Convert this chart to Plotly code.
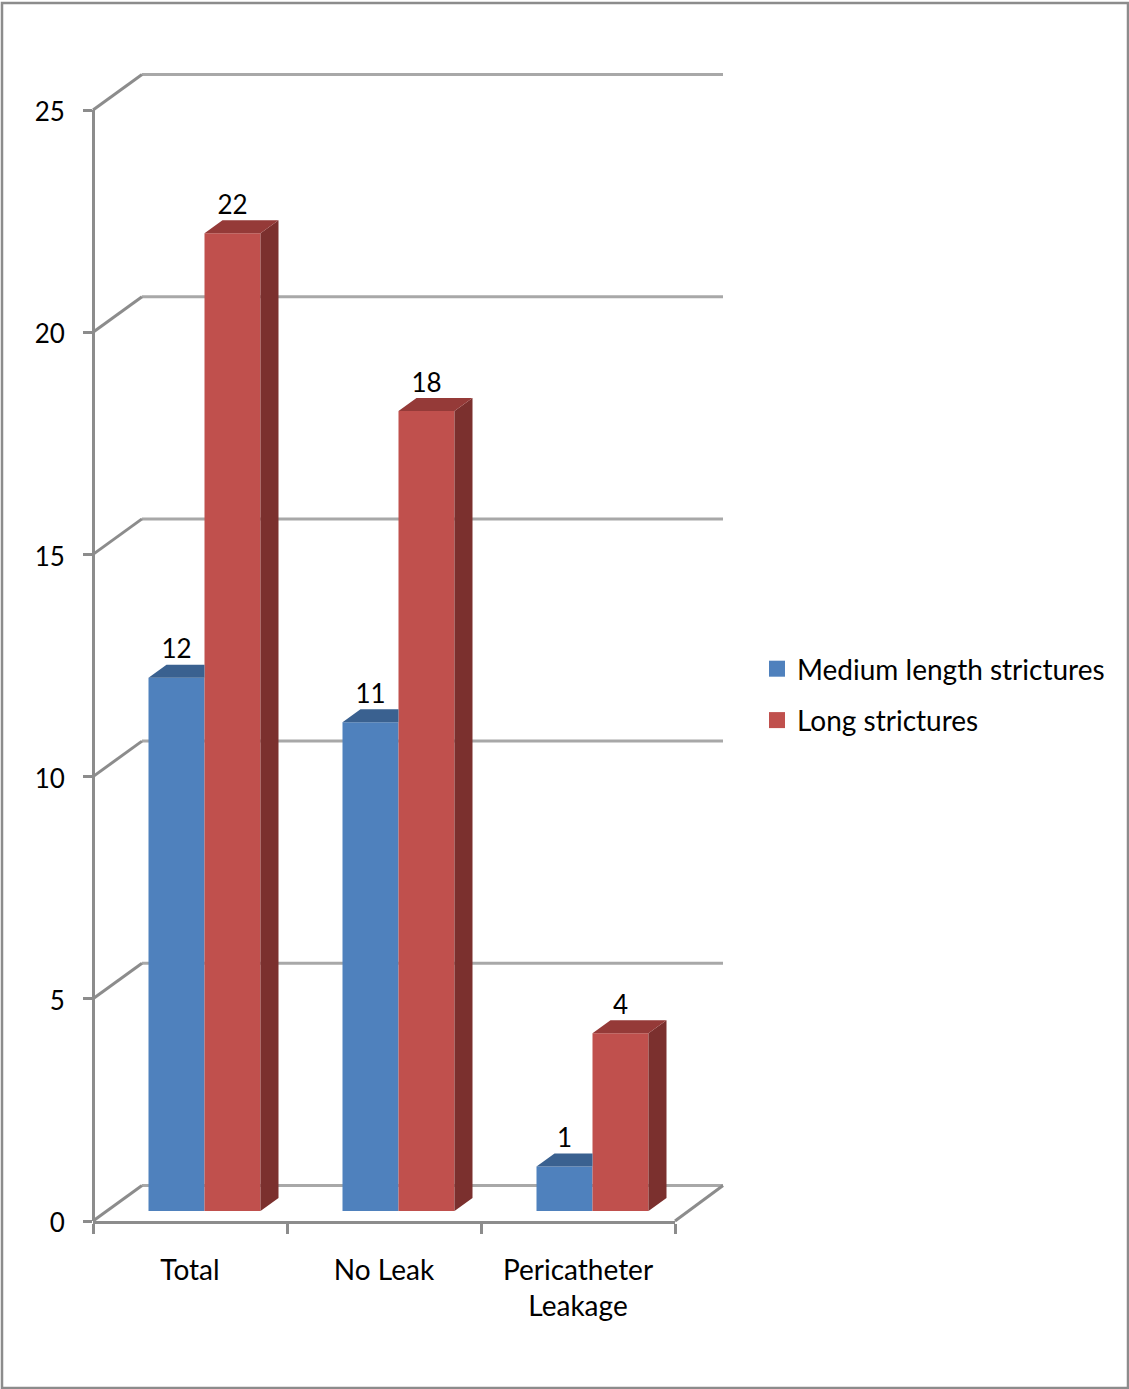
import plotly.graph_objects as go

categories = ["Total", "No Leak", "Pericatheter<br>Leakage"]
medium_strictures = [12, 11, 1]
long_strictures = [22, 18, 4]
value_ticks = [0, 5, 10, 15, 20, 25]

WIDTH, HEIGHT = 1129, 1389
FONT = "Lato"
TEXT_SIZE = 28
NUMBER_SIZE = 26
GRAY = "#8C8C8C"
GRAY_LIGHT = "#A8A8A8"
BLUE, BLUE_TOP = "#4F81BD", "#3A6190"
RED, RED_TOP, RED_SIDE = "#C0504D", "#953A38", "#7B302E"

# Pixel frame of the front plane of the chart
LEFT, RIGHT = 93, 675
BOTTOM, TOP = 1221, 110
CAT_PX = (RIGHT - LEFT) / 3
VAL_PX = (BOTTOM - TOP) / 25

# Perspective offsets, in axis units
WALL_DX, WALL_DY = 49 / CAT_PX, 35.5 / VAL_PX
BAR_DX, BAR_DY = 18 / CAT_PX, 13 / VAL_PX
BAR_BASE = 10 / VAL_PX
BAR_WIDTH = 56 / CAT_PX
BAR_OFFSET = 55.5 / CAT_PX

# The wall axes extend past the front plane so the receding grid can be drawn
PAD = 6
wall_x_range = [-PAD / CAT_PX, (730 - LEFT) / CAT_PX]
wall_y_range = [-PAD / VAL_PX, (BOTTOM - 66) / VAL_PX]
X_BACK_END = (723 - LEFT) / CAT_PX

fig = go.Figure()

# Side wall diagonals and back wall gridlines
diag_x, diag_y, back_x, back_y = [], [], [], []
for t in value_ticks:
    diag_x += [0, WALL_DX, None]
    diag_y += [t, t + WALL_DY, None]
    back_x += [WALL_DX, X_BACK_END, None]
    back_y += [t + WALL_DY, t + WALL_DY, None]
diag_x += [3, 3 + WALL_DX * 0.98]
diag_y += [0, WALL_DY]

fig.add_trace(go.Scatter(x=back_x, y=back_y, mode="lines", xaxis="x", yaxis="y",
                         line=dict(color=GRAY_LIGHT, width=3), showlegend=False, hoverinfo="skip"))
fig.add_trace(go.Scatter(x=diag_x, y=diag_y, mode="lines", xaxis="x", yaxis="y",
                         line=dict(color=GRAY, width=3), showlegend=False, hoverinfo="skip"))

# Front faces of the bars
cat_index = list(range(len(categories)))
red_start = BAR_OFFSET + BAR_WIDTH
for values, colour, start in [(medium_strictures, BLUE, BAR_OFFSET),
                              (long_strictures, RED, red_start)]:
    fig.add_trace(go.Bar(x=cat_index, y=values, base=BAR_BASE, width=BAR_WIDTH, offset=start,
                         xaxis="x2", yaxis="y2", marker=dict(color=colour, line=dict(width=0)),
                         showlegend=False))


def top_face(i, value, start, clip_right):
    """Parallelogram on top of a bar; clip_right cuts it at the neighbouring bar."""
    x0, x1 = i + start, i + start + BAR_WIDTH
    y = value + BAR_BASE
    far = x1 if clip_right else x1 + BAR_DX
    return ([x0, x0 + BAR_DX, far, x1, None], [y, y + BAR_DY, y + BAR_DY, y, None])


def side_face(i, value, start):
    x1 = i + start + BAR_WIDTH
    y = value + BAR_BASE
    return ([x1, x1 + BAR_DX, x1 + BAR_DX, x1, None],
            [BAR_BASE, BAR_BASE + BAR_DY, y + BAR_DY, y, None])


def polygons(faces):
    xs, ys = [], []
    for fx, fy in faces:
        xs += fx
        ys += fy
    return xs, ys


face_sets = [
    (polygons(top_face(i, v, BAR_OFFSET, True) for i, v in enumerate(medium_strictures)), BLUE_TOP),
    (polygons(side_face(i, v, red_start) for i, v in enumerate(long_strictures)), RED_SIDE),
    (polygons(top_face(i, v, red_start, False) for i, v in enumerate(long_strictures)), RED_TOP),
]
for (xs, ys), colour in face_sets:
    fig.add_trace(go.Scatter(x=xs, y=ys, mode="lines", fill="toself", fillcolor=colour,
                             line=dict(width=0, color=colour), xaxis="x2", yaxis="y2",
                             showlegend=False, hoverinfo="skip"))

# Value labels above each bar
for values, start in [(medium_strictures, BAR_OFFSET), (long_strictures, red_start)]:
    fig.add_trace(go.Scatter(x=[i + start + BAR_WIDTH / 2 for i in cat_index],
                             y=[v + BAR_BASE + BAR_DY for v in values],
                             text=[str(v) for v in values], mode="text",
                             textposition="top center", xaxis="x2", yaxis="y2",
                             textfont=dict(family=FONT, size=NUMBER_SIZE, color="black"),
                             showlegend=False, hoverinfo="skip", cliponaxis=False))

# Legend entries
for name, colour in [("Medium length strictures", BLUE), ("Long strictures", RED)]:
    fig.add_trace(go.Scatter(x=[None], y=[None], name=name, mode="markers", xaxis="x2", yaxis="y2",
                             legendgroup=name,
                             marker=dict(symbol="square", size=16, color=colour)))

fig.update_layout(
    width=WIDTH, height=HEIGHT, autosize=False,
    margin=dict(l=0, r=0, t=0, b=0, autoexpand=False),
    paper_bgcolor="white", plot_bgcolor="rgba(0,0,0,0)",
    barmode="overlay",
    font=dict(family=FONT, size=TEXT_SIZE, color="black"),
    xaxis=dict(domain=[(LEFT - PAD) / WIDTH, 730 / WIDTH], range=wall_x_range,
               visible=False, anchor="y"),
    yaxis=dict(domain=[(HEIGHT - BOTTOM - PAD) / HEIGHT, (HEIGHT - 66) / HEIGHT], range=wall_y_range,
               visible=False, anchor="x"),
    xaxis2=dict(domain=[LEFT / WIDTH, RIGHT / WIDTH], range=[0, 3], anchor="y2",
                tickmode="array", tickvals=[i + 0.5 for i in cat_index], ticktext=categories,
                ticks="", showgrid=False, zeroline=False, showline=True, linecolor=GRAY, linewidth=3,
                ticklabelstandoff=22, tickfont=dict(family=FONT, size=TEXT_SIZE, color="black"),
                minor=dict(tickmode="array", tickvals=[0, 1, 2, 3], ticks="outside",
                           ticklen=10, tickwidth=2.5, tickcolor=GRAY, showgrid=False)),
    yaxis2=dict(domain=[(HEIGHT - BOTTOM) / HEIGHT, (HEIGHT - TOP) / HEIGHT], range=[0, 25],
                anchor="free", position=93 / WIDTH,
                tickmode="array", tickvals=value_ticks, ticks="outside", ticklen=9, tickwidth=2.5,
                tickcolor=GRAY, showgrid=False, zeroline=False, showline=True, linecolor=GRAY, linewidth=3,
                ticklabelstandoff=13, ticklabelshift=2,
                tickfont=dict(family=FONT, size=NUMBER_SIZE, color="black")),
    legend=dict(x=757 / WIDTH, xanchor="left", y=1 - 694.5 / HEIGHT, yanchor="middle",
                bgcolor="rgba(0,0,0,0)", tracegroupgap=12, traceorder="grouped",
                font=dict(family=FONT, size=TEXT_SIZE, color="black")),
    shapes=[dict(type="rect", xref="paper", yref="paper",
                 x0=2 / WIDTH, x1=1128 / WIDTH, y0=1 - 1388 / HEIGHT, y1=1 - 3 / HEIGHT,
                 line=dict(color=GRAY, width=2.5), layer="below")],
)

fig.write_html("out.html")
